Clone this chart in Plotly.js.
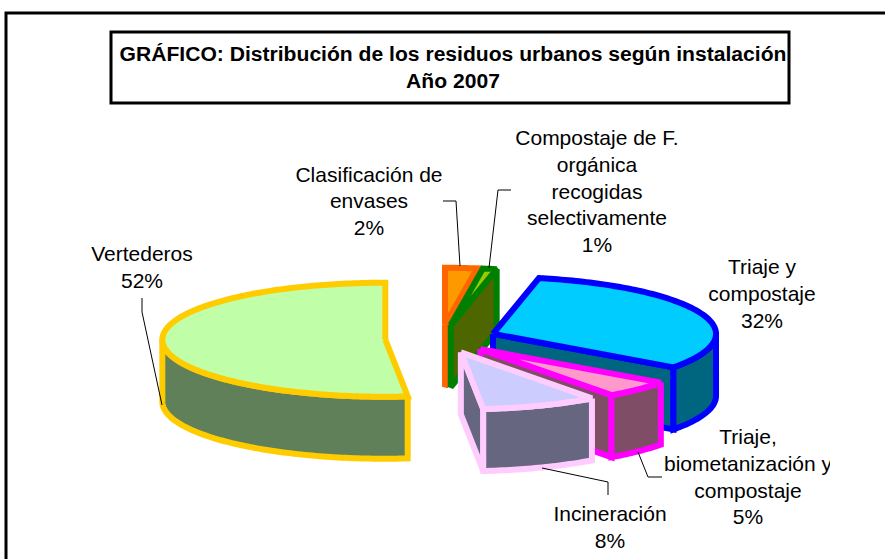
<!DOCTYPE html>
<html>
<head>
<meta charset="utf-8">
<script src="https://cdn.plot.ly/plotly-3.0.1.min.js"></script>
<style>html,body{margin:0;padding:0;background:#fff}#chart{width:885px;height:559px}</style>
</head>
<body>
<div id="chart"></div>
<script>
// Data, in clockwise order from 12 o'clock
const categories = ["Clasificación de envases", "Compostaje de F. orgánica recogidas selectivamente", "Triaje y compostaje", "Triaje, biometanización y compostaje", "Incineración", "Vertederos"];
const values = [2.3, 1.0, 31.7, 5.0, 8.4, 51.6];
const labelLines = [
  ["Clasificación de", "envases"],
  ["Compostaje de F.", "orgánica", "recogidas", "selectivamente"],
  ["Triaje y", "compostaje"],
  ["Triaje,", "biometanización y", "compostaje"],
  ["Incineración"],
  ["Vertederos"]
];
const titleLines = ["GRÁFICO: Distribución de los residuos urbanos según instalación", "Año 2007"];

// Styles
const topColors = ["#FF9900", "#99CC00", "#00CCFF", "#FF99CC", "#CCCCFF", "#C0FFA8"];
const sideColors = ["#804D00", "#4D6600", "#006680", "#804D66", "#666680", "#60805A"];
const lineColors = ["#FF6600", "#008000", "#0000FF", "#FF00FF", "#FFCCFF", "#FFCC00"];

// Layout of the projected pie (pixel-scaled axes)
const W = 885, H = 559;
const CX = 441, CY = 339, RX = 223, RY = 57, DEPTH = 62, EXPLODE = 0.25, STROKE = 6;
const labelAnchors = [[369, 176.5, 26.5], [597, 140, 26.7], [762, 268.5, 27], [748, 439, 26.7], [610, 515.5, 27], [142, 255.5, 27]];
const leaders = [
  [[443, 201], [456, 201], [460, 266]],
  [[511, 190], [498, 190], [489, 268]],
  [[662, 477], [648, 477], [638, 452]],
  [[608, 495], [608, 482], [542, 468]],
  [[142, 298], [142, 312], [162, 405]]
];

const rad = d => d * Math.PI / 180;
const total = values.reduce((a, b) => a + b, 0);
let cum = 0;
const slices = values.map((v, i) => {
  const a1 = cum / total * 360; cum += v;
  const a2 = cum / total * 360;
  const mid = rad((a1 + a2) / 2);
  return { i, a1, a2, cx: CX + EXPLODE * RX * Math.sin(mid), cy: CY - EXPLODE * RY * Math.cos(mid) };
});
const rimPt = (s, a, dz) => [s.cx + RX * Math.sin(rad(a)), s.cy - RY * Math.cos(rad(a)) + (dz || 0)];
const arc = (s, a, b, dz) => {
  const pts = [], n = Math.max(2, Math.ceil(b - a));
  for (let k = 0; k <= n; k++) pts.push(rimPt(s, a + (b - a) * k / n, dz));
  return pts;
};
const poly = (pts, fill, line) => ({
  type: "scatter", mode: "lines", x: [...pts.map(p => p[0]), pts[0][0]], y: [...pts.map(p => p[1]), pts[0][1]],
  fill: "toself", fillcolor: fill, line: { color: line, width: STROKE, simplify: false }, hoverinfo: "skip", showlegend: false
});

const traces = [];
const order = [5, 0, 1, 2, 3, 4];
order.forEach(idx => {
  const s = slices[idx];
  const side = sideColors[idx], top = topColors[idx], ln = lineColors[idx];
  // cut face at the clockwise edge
  if (s.a2 < 180) {
    const p = rimPt(s, s.a2);
    traces.push(poly([[s.cx, s.cy], p, [p[0], p[1] + DEPTH], [s.cx, s.cy + DEPTH]], side, ln));
  }
  // outer rim, visible part
  const r1 = Math.max(s.a1, 90), r2 = Math.min(s.a2, 270);
  if (r2 > r1) {
    const up = arc(s, r1, r2), down = arc(s, r1, r2, DEPTH).reverse();
    traces.push(poly([...up, ...down], side, ln));
  }
  // top face
  traces.push(poly([[s.cx, s.cy], ...arc(s, s.a1, s.a2)], top, ln));
});

// Leader lines
leaders.forEach(l => traces.push({
  type: "scatter", mode: "lines", x: l.map(p => p[0]), y: l.map(p => p[1]),
  line: { color: "#000", width: 1 }, hoverinfo: "skip", showlegend: false
}));

// Labels, one point per text line to keep the original leading
const tx = [], ty = [], tt = [];
categories.forEach((c, i) => {
  const [x, y, lead] = labelAnchors[i];
  const lines = [...labelLines[i], Math.round(values[i] / total * 100) + "%"];
  lines.forEach((t, k) => { tx.push(x); ty.push(y + k * lead); tt.push(t); });
});
traces.push({
  type: "scatter", mode: "text", xaxis: "x2", x: tx, y: ty, text: tt, textposition: "middle center",
  textfont: { family: "Liberation Sans, Arial, sans-serif", size: 21, color: "#000" },
  cliponaxis: true, hoverinfo: "skip", showlegend: false
});
titleLines.forEach((t, k) => traces.push({
  type: "scatter", mode: "text", x: [453], y: [56 + k * 27], text: ["<b>" + t + "</b>"], textposition: "middle center",
  textfont: { family: "Liberation Sans, Arial, sans-serif", size: 21.1, color: "#000" },
  cliponaxis: false, hoverinfo: "skip", showlegend: false
}));

const hidden = { visible: false, fixedrange: true };
const layout = {
  width: W, height: H, margin: { l: 0, r: 0, t: 0, b: 0 }, paper_bgcolor: "#fff", plot_bgcolor: "rgba(0,0,0,0)",
  showlegend: false,
  xaxis: { ...hidden, range: [0, W], domain: [0, 1] },
  xaxis2: { ...hidden, range: [0, 830], domain: [0, 830 / W], anchor: "y" },
  yaxis: { ...hidden, range: [H, 0], domain: [0, 1] },
  shapes: [
    { type: "path", path: "M 6 559 L 6 13 L 885 13", line: { color: "#000", width: 3 }, xref: "x", yref: "y" },
    { type: "rect", x0: 111, x1: 789, y0: 32, y1: 103, line: { color: "#000", width: 3 }, xref: "x", yref: "y", layer: "below" }
  ]
};
Plotly.newPlot("chart", traces, layout, { staticPlot: true, displayModeBar: false });
</script>
</body>
</html>
